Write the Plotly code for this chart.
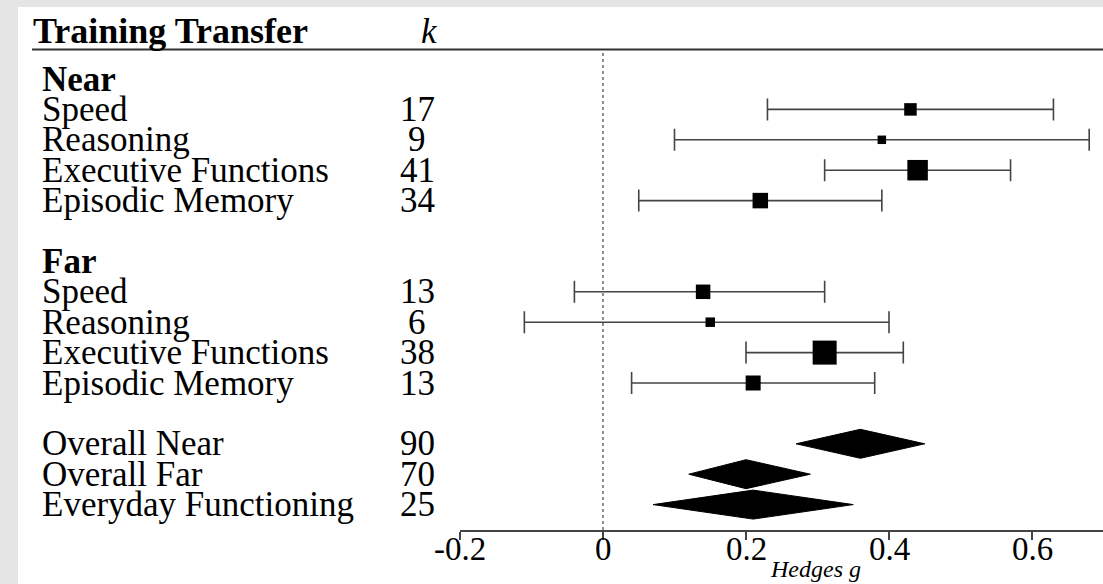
import plotly.graph_objects as go

# ---------------- data ----------------
near_labels = ["Speed", "Reasoning", "Executive Functions", "Episodic Memory"]
near_k = [17, 9, 41, 34]
near_g = [0.43, 0.39, 0.44, 0.22]
near_lo = [0.23, 0.10, 0.31, 0.05]
near_hi = [0.63, 0.68, 0.57, 0.39]
near_weight = [12.5, 8.5, 20.5, 15.5]

far_labels = ["Speed", "Reasoning", "Executive Functions", "Episodic Memory"]
far_k = [13, 6, 38, 13]
far_g = [0.14, 0.15, 0.31, 0.21]
far_lo = [-0.04, -0.11, 0.20, 0.04]
far_hi = [0.31, 0.40, 0.42, 0.38]
far_weight = [14.5, 9.5, 24.0, 15.0]

overall_labels = ["Overall Near", "Overall Far", "Everyday Functioning"]
overall_k = [90, 70, 25]
overall_g = [0.36, 0.20, 0.21]
overall_lo = [0.27, 0.12, 0.07]
overall_hi = [0.45, 0.29, 0.35]

tick_vals = [-0.2, 0, 0.2, 0.4, 0.6]
tick_text = ["-0.2", "0", "0.2", "0.4", "0.6"]

# ---------------- layout geometry ----------------
W, H = 1103, 584
L, R, T, B = 460, 0, 50, 54
row_px = 30.4
row0_px = 79  # pixel y of first row (the "Near" header)
plot_h = H - T - B
plot_w = W - L - R

def ypix_to_row(p):
    return (p - row0_px) / row_px

def xpix_to_paper(p):
    return (p - L) / plot_w

def ypix_to_paper(p):
    return 1 - (p - T) / plot_h

FONT = "Liberation Serif"
FS = 35
BLACK = "#000000"
LINE = "#444444"

near_rows = [1, 2, 3, 4]
far_rows = [7, 8, 9, 10]
overall_rows = [12, 13, 14]

fig = go.Figure()

# study CIs (drawn first) and squares
for rows, g, lo, hi, wt in [
    (near_rows, near_g, near_lo, near_hi, near_weight),
    (far_rows, far_g, far_lo, far_hi, far_weight),
]:
    fig.add_trace(go.Scatter(
        x=g, y=rows, mode="markers",
        marker=dict(symbol="square", size=1, color="rgba(0,0,0,0)"),
        error_x=dict(type="data", symmetric=False,
                     array=[h - v for h, v in zip(hi, g)],
                     arrayminus=[v - l for v, l in zip(g, lo)],
                     color=LINE, thickness=1.6, width=11),
        showlegend=False, hoverinfo="skip",
    ))
    fig.add_trace(go.Scatter(
        x=g, y=rows, mode="markers",
        marker=dict(symbol="square", size=wt, color=BLACK, opacity=1,
                    line=dict(width=0, color=BLACK)),
        showlegend=False, hoverinfo="skip",
    ))

# summary diamonds
half = 14.5 / row_px
for r, g, lo, hi in zip(overall_rows, overall_g, overall_lo, overall_hi):
    fig.add_trace(go.Scatter(
        x=[lo, g, hi, g, lo], y=[r, r - half, r, r + half, r],
        mode="lines", fill="toself", fillcolor=BLACK,
        line=dict(color=BLACK, width=1),
        showlegend=False, hoverinfo="skip",
    ))

annotations = []

def txt(text, xp, row, anchor="left", size=FS):
    annotations.append(dict(
        text=text, xref="paper", yref="y", x=xpix_to_paper(xp), y=row,
        xanchor=anchor, yanchor="middle", showarrow=False,
        font=dict(family=FONT, size=size, color=BLACK)))

label_x = 40
k_x = 417
txt("<b>Near</b>", label_x, 0)
for r, lab, k in zip(near_rows, near_labels, near_k):
    txt(lab, label_x, r)
    txt(str(k), k_x, r, anchor="center")
txt("<b>Far</b>", label_x, 6)
for r, lab, k in zip(far_rows, far_labels, far_k):
    txt(lab, label_x, r)
    txt(str(k), k_x, r, anchor="center")
for r, lab, k in zip(overall_rows, overall_labels, overall_k):
    txt(lab, label_x, r)
    txt(str(k), k_x, r, anchor="center")

# header
annotations.append(dict(
    text="<b>Training Transfer</b>", xref="paper", yref="paper",
    x=xpix_to_paper(31), y=ypix_to_paper(31), xanchor="left", yanchor="middle",
    showarrow=False, font=dict(family=FONT, size=FS + 1, color=BLACK)))
annotations.append(dict(
    text="<i>k</i>", xref="paper", yref="paper",
    x=xpix_to_paper(429), y=ypix_to_paper(31), xanchor="center", yanchor="middle",
    showarrow=False, font=dict(family=FONT, size=FS, color=BLACK)))
annotations.append(dict(
    text="<i>Hedges g</i>", xref="paper", yref="paper",
    x=xpix_to_paper(815), y=ypix_to_paper(569), xanchor="center", yanchor="middle",
    showarrow=False, font=dict(family=FONT, size=24, color=BLACK)))

# tick labels placed close under the axis line
for v, t in zip(tick_vals, tick_text):
    annotations.append(dict(
        text=t, xref="x", yref="paper", x=v, y=ypix_to_paper(549),
        xanchor="center", yanchor="middle", showarrow=False,
        font=dict(family=FONT, size=33, color=BLACK)))

shapes = [
    # white panel
    dict(type="rect", xref="paper", yref="paper", layer="below",
         x0=xpix_to_paper(18), x1=xpix_to_paper(W + 5),
         y0=ypix_to_paper(H + 5), y1=ypix_to_paper(7),
         fillcolor="white", line=dict(width=0)),
    # header rule
    dict(type="line", xref="paper", yref="paper",
         x0=xpix_to_paper(32), x1=xpix_to_paper(W + 2),
         y0=ypix_to_paper(49.5), y1=ypix_to_paper(49.5),
         line=dict(color="#333333", width=1.8)),
    # zero reference line
    dict(type="line", xref="x", yref="paper", x0=0, x1=0, y0=0, y1=1,
         line=dict(color="#555555", width=1.3, dash="dot")),
]

x_right = -0.2 + plot_w / 715.0
fig.update_layout(
    width=W, height=H,
    margin=dict(l=L, r=R, t=T, b=B, pad=0),
    paper_bgcolor="#e5e5e5",
    plot_bgcolor="rgba(0,0,0,0)",
    xaxis=dict(range=[-0.2, x_right], tickvals=tick_vals,
               showticklabels=False,
               showgrid=False, zeroline=False, showline=True,
               linecolor="#444444", linewidth=1.6,
               ticks="outside", ticklen=8, tickcolor="#444444", tickwidth=1.6,
               fixedrange=True),
    yaxis=dict(range=[ypix_to_row(H - B), ypix_to_row(T)], visible=False,
               showgrid=False, zeroline=False, fixedrange=True),
    annotations=annotations,
    shapes=shapes,
    showlegend=False,
)

fig.write_html("out.html")
